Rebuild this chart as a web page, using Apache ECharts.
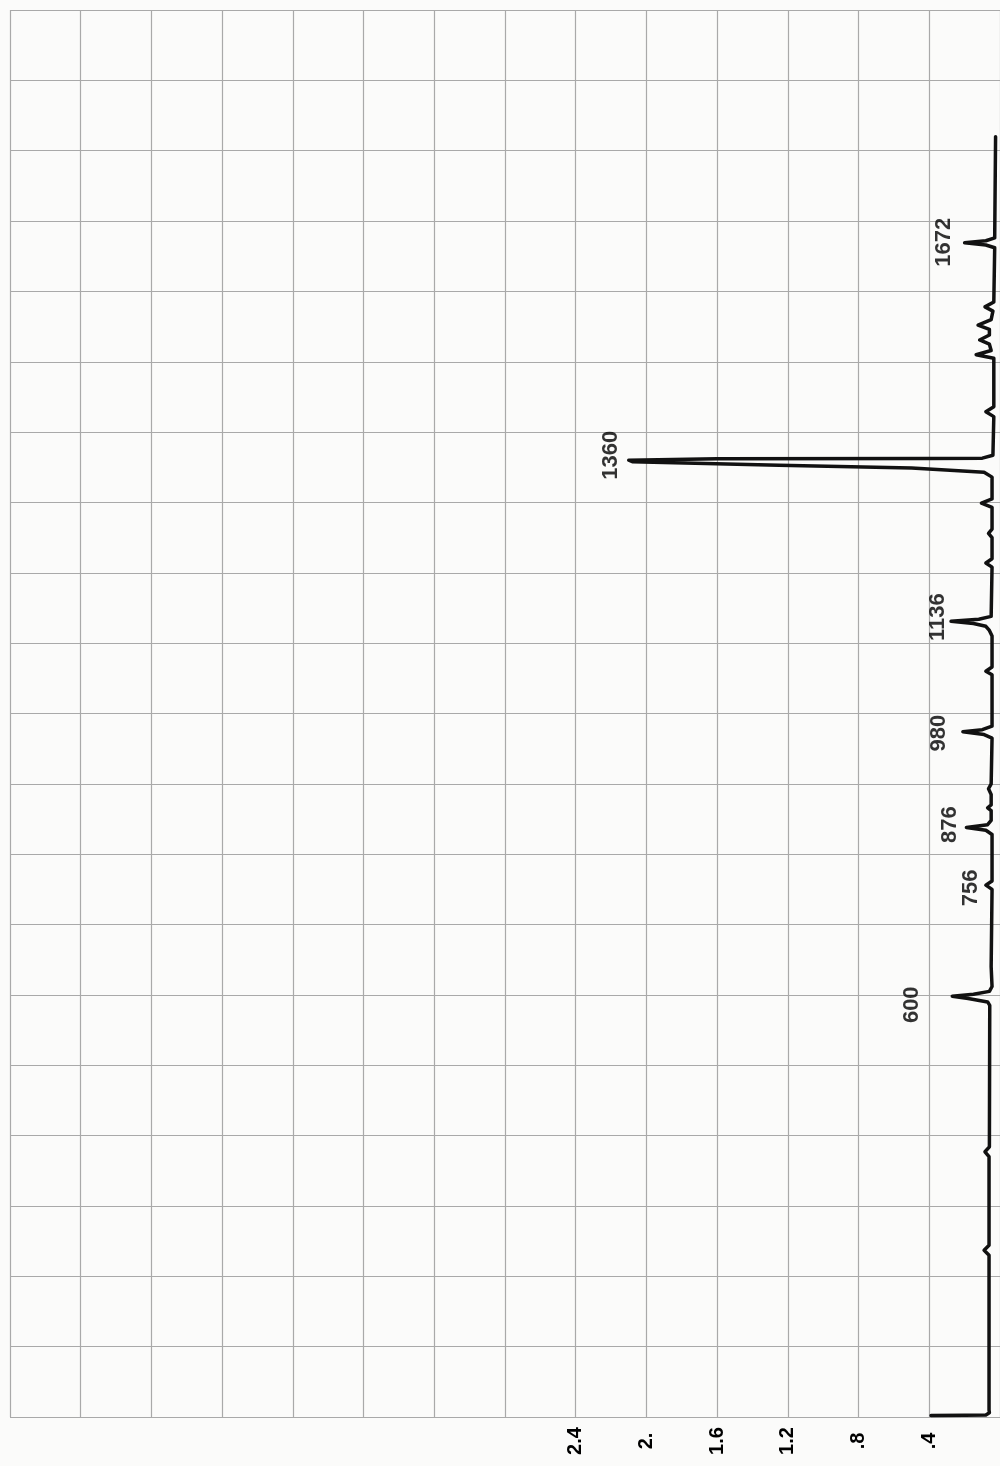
<!DOCTYPE html>
<html>
<head>
<meta charset="utf-8">
<script src="https://cdn.jsdelivr.net/npm/echarts@6/dist/echarts.min.js"></script>
<style>
  html, body { margin: 0; padding: 0; background: #fbfbfa; }
  #chart { width: 1000px; height: 1466px; }
</style>
</head>
<body>
<div id="chart"></div>
<script>
  // spectrum trace: [wavenumber, intensity]
  var traceWn = [2, 2.5, 3, 6, 10, 230, 237, 244, 370, 377, 384, 585, 590, 595, 598, 601, 605, 612, 640,
    750, 756, 762, 828, 834, 838, 842, 848, 862, 866, 870, 885, 893, 900, 965, 970, 974, 977, 982,
    1055, 1060, 1066, 1110, 1118, 1124, 1128, 1131, 1134, 1138, 1208, 1214, 1220, 1250, 1256, 1262,
    1293, 1299, 1305, 1336, 1343, 1349, 1353, 1358, 1360, 1362, 1362.5, 1363, 1367, 1422, 1429, 1436,
    1505, 1510, 1516, 1525, 1531, 1538, 1546, 1552, 1560, 1572, 1578, 1585, 1662, 1666, 1669, 1672,
    1676, 1820]
  var traceInt = [0.39, 0.2, 0.08, 0.06, 0.062, 0.062, 0.09, 0.062, 0.062, 0.085, 0.06, 0.058, 0.07, 0.18,
    0.27, 0.15, 0.06, 0.045, 0.05, 0.045, 0.08, 0.045, 0.045, 0.08, 0.19, 0.07, 0.05, 0.05, 0.07, 0.05,
    0.05, 0.065, 0.05, 0.045, 0.09, 0.21, 0.1, 0.045, 0.045, 0.08, 0.045, 0.045, 0.06, 0.08, 0.15, 0.277,
    0.12, 0.05, 0.045, 0.08, 0.045, 0.045, 0.065, 0.045, 0.045, 0.105, 0.045, 0.045, 0.09, 0.5, 1.25,
    2.08, 2.1, 1.6, 0.4, 0.1, 0.04, 0.035, 0.08, 0.035, 0.035, 0.135, 0.05, 0.06, 0.115, 0.06, 0.06,
    0.124, 0.05, 0.04, 0.085, 0.035, 0.03, 0.08, 0.2, 0.08, 0.03, 0.025]

  // hand written peak annotations: text, wavenumber and intensity where written
  var peakText = ['600', '756', '876', '980', '1136', '1360', '1672']
  var peakWn = [586, 752, 842, 972, 1137, 1367, 1670]
  var peakInt = [0.5, 0.164, 0.282, 0.344, 0.35, 2.2, 0.316]

  // intensity ticks printed under the chart
  var tickValues = [0.4, 0.8, 1.2, 1.6, 2.0, 2.4]
  var tickLabels = ['.4', '.8', '1.2', '1.6', '2.', '2.4']

  var chart = echarts.init(document.getElementById('chart'))

  var traceData = traceWn.map(function (w, i) {
    return [traceInt[i], w]
  })
  var peakData = peakText.map(function (t, i) {
    return { name: t, value: [peakInt[i], peakWn[i]] }
  })

  var gridLine = { lineStyle: { color: '#a9a9a9', width: 1.2 } }
  var textFont = 'Liberation Sans, Arial, sans-serif'

  chart.setOption({
    backgroundColor: '#fbfbfa',
    animation: false,
    grid: { left: 10, top: 10, width: 992, height: 1407 },
    xAxis: {
      type: 'value',
      inverse: true,
      min: 0,
      max: 5.6,
      interval: 0.4,
      axisLine: { show: false },
      axisTick: { show: false },
      splitLine: gridLine,
      axisLabel: {
        rotate: 90,
        margin: 24,
        align: 'center',
        verticalAlign: 'middle',
        color: '#000',
        fontSize: 20,
        fontWeight: 'bold',
        fontFamily: textFont,
        formatter: function (v) {
          for (var i = 0; i < tickValues.length; i++) {
            if (Math.abs(v - tickValues[i]) < 1e-6) return tickLabels[i]
          }
          return ''
        }
      }
    },
    yAxis: {
      type: 'value',
      min: 0,
      max: 2000,
      interval: 100,
      axisLine: { show: false },
      axisTick: { show: false },
      axisLabel: { show: false },
      splitLine: gridLine
    },
    series: [
      {
        type: 'line',
        data: traceData,
        showSymbol: false,
        smooth: false,
        lineStyle: { color: '#111', width: 3.5, join: 'round', cap: 'round' }
      },
      {
        type: 'scatter',
        data: peakData,
        symbolSize: 0,
        label: {
          show: true,
          position: 'inside',
          rotate: 90,
          formatter: '{b}',
          color: '#000',
          textBorderWidth: 0,
          fontSize: 22,
          fontWeight: 'bold',
          fontFamily: textFont
        }
      }
    ]
  })
</script>
</body>
</html>
